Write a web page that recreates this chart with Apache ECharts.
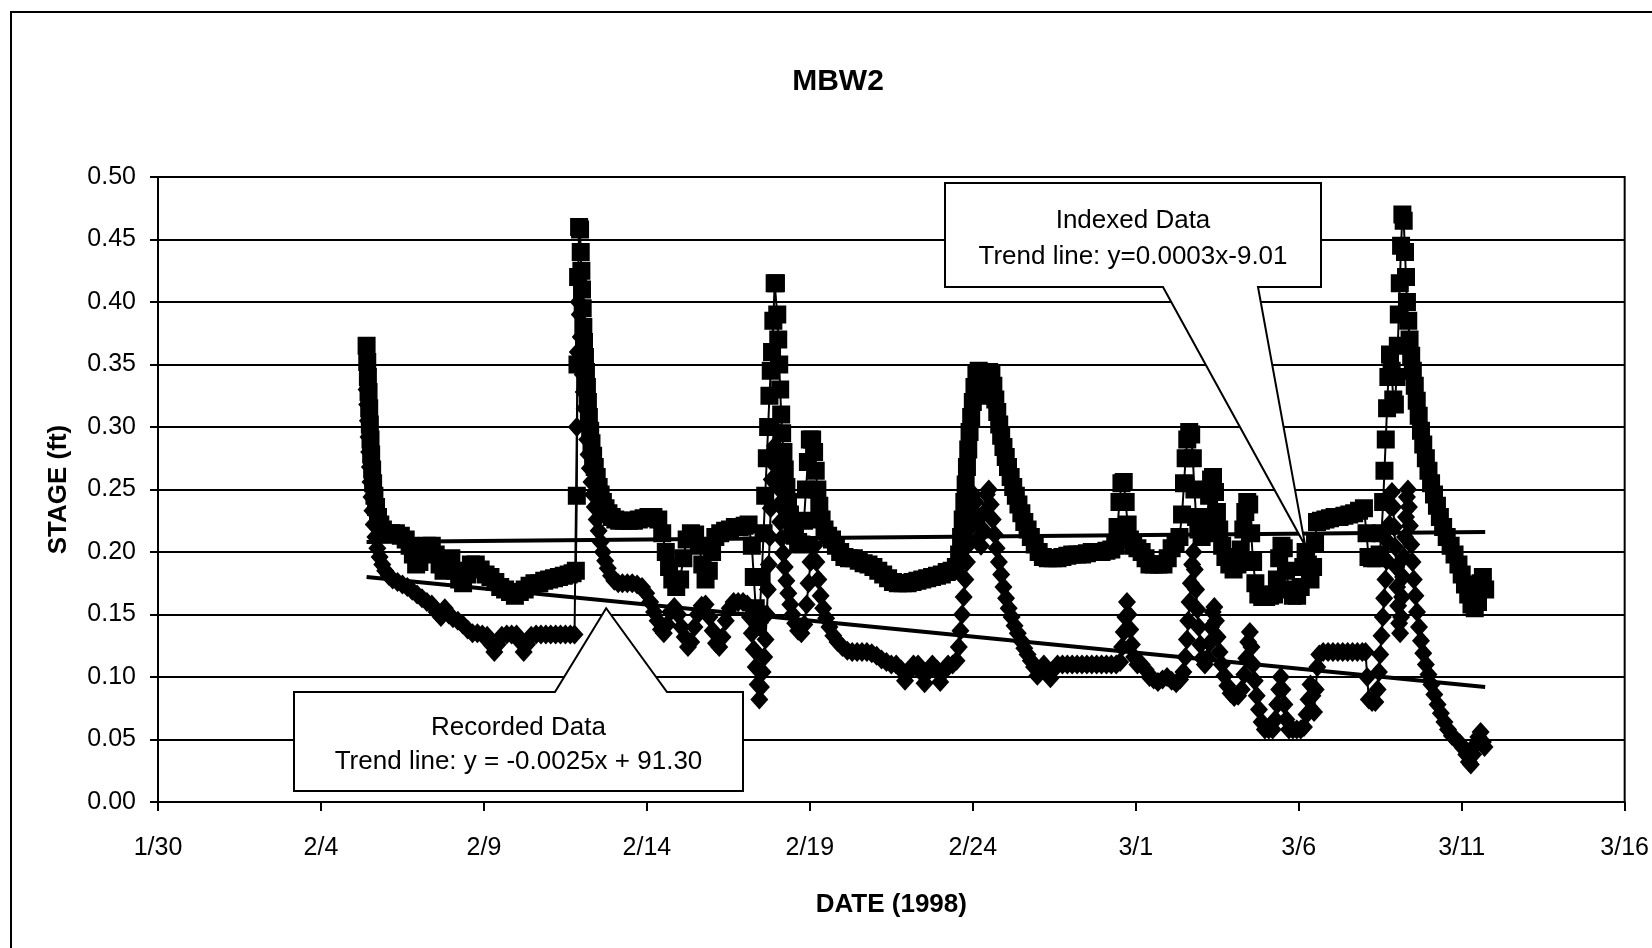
<!DOCTYPE html>
<html>
<head>
<meta charset="utf-8">
<title>MBW2</title>
<script src="https://cdn.jsdelivr.net/npm/echarts@6/dist/echarts.min.js"></script>
<style>
  html, body { margin: 0; padding: 0; background: #fff; }
  #chart { width: 1652px; height: 948px; }
</style>
</head>
<body>
<div id="chart"></div>
<script>
// x values are days counted from 30 Jan 1998 00:00; y values are stage in feet.
const dateTicks = ['1/30', '2/4', '2/9', '2/14', '2/19', '2/24', '3/1', '3/6', '3/11', '3/16'];

// Recorded stage (diamond markers)
const recorded = [
  [6.40,0.330],[6.42,0.318],[6.44,0.305],[6.46,0.292],[6.48,0.280],[6.50,0.268],[6.52,0.256],[6.55,0.244],
  [6.58,0.233],[6.62,0.222],[6.67,0.212],[6.73,0.203],[6.80,0.196],[6.88,0.190],[6.97,0.185],[7.08,0.181],
  [7.20,0.178],[7.35,0.176],[7.50,0.174],[7.65,0.172],[7.80,0.169],[7.95,0.166],[8.10,0.163],[8.25,0.160],
  [8.40,0.158],[8.55,0.152],[8.68,0.148],[8.80,0.155],[8.92,0.150],[9.05,0.147],[9.20,0.145],[9.35,0.142],
  [9.50,0.138],[9.65,0.135],[9.80,0.135],[9.95,0.134],[10.10,0.133],[10.22,0.126],[10.32,0.120],[10.42,0.126],
  [10.55,0.133],[10.70,0.134],[10.85,0.134],[11.00,0.134],[11.12,0.128],[11.22,0.120],[11.32,0.126],[11.45,0.133],
  [11.60,0.134],[11.75,0.134],[11.90,0.134],[12.05,0.134],[12.20,0.134],[12.35,0.134],[12.50,0.134],[12.65,0.134],
  [12.78,0.134],[12.85,0.300],[12.88,0.360],[12.91,0.400],[12.94,0.390],[12.97,0.372],[13.00,0.356],[13.03,0.342],
  [13.06,0.328],[13.09,0.315],[13.13,0.302],[13.17,0.290],[13.21,0.278],[13.25,0.267],[13.30,0.256],[13.35,0.246],
  [13.40,0.236],[13.46,0.226],[13.52,0.217],[13.58,0.208],[13.65,0.200],[13.72,0.193],[13.80,0.187],[13.90,0.181],
  [14.00,0.177],[14.12,0.175],[14.25,0.175],[14.40,0.175],[14.55,0.175],[14.70,0.174],[14.85,0.172],[14.98,0.167],
  [15.10,0.160],[15.22,0.152],[15.33,0.145],[15.43,0.138],[15.52,0.135],[15.62,0.142],[15.72,0.152],[15.84,0.156],
  [15.96,0.150],[16.06,0.140],[16.16,0.132],[16.26,0.124],[16.36,0.128],[16.46,0.140],[16.56,0.150],[16.68,0.157],
  [16.80,0.158],[16.92,0.148],[17.02,0.137],[17.12,0.127],[17.22,0.124],[17.32,0.132],[17.42,0.145],[17.54,0.155],
  [17.66,0.160],[17.80,0.160],[17.95,0.160],[18.08,0.158],[18.16,0.148],[18.22,0.135],[18.28,0.122],[18.34,0.108],
  [18.40,0.094],[18.45,0.082],[18.50,0.092],[18.55,0.104],[18.60,0.116],[18.64,0.130],[18.68,0.150],[18.71,0.170],
  [18.74,0.190],[18.77,0.212],[18.80,0.235],[18.83,0.258],[18.86,0.280],[18.89,0.300],[18.93,0.285],[18.97,0.268],
  [19.01,0.252],[19.05,0.238],[19.09,0.224],[19.13,0.211],[19.18,0.199],[19.23,0.188],[19.28,0.177],[19.34,0.167],
  [19.40,0.158],[19.47,0.150],[19.55,0.143],[19.64,0.137],[19.74,0.135],[19.83,0.142],[19.90,0.158],[19.96,0.175],
  [20.02,0.192],[20.08,0.205],[20.14,0.205],[20.20,0.192],[20.26,0.178],[20.33,0.165],[20.41,0.155],[20.50,0.147],
  [20.60,0.140],[20.72,0.133],[20.85,0.128],[21.00,0.124],[21.15,0.121],[21.30,0.120],[21.45,0.120],[21.60,0.120],
  [21.75,0.120],[21.90,0.119],[22.05,0.117],[22.20,0.114],[22.35,0.112],[22.50,0.110],[22.65,0.110],[22.80,0.106],
  [22.92,0.097],[23.04,0.104],[23.18,0.110],[23.32,0.110],[23.44,0.103],[23.52,0.095],[23.62,0.104],[23.76,0.110],
  [23.90,0.106],[24.00,0.096],[24.10,0.104],[24.24,0.110],[24.38,0.110],[24.50,0.113],[24.57,0.124],[24.62,0.137],
  [24.67,0.150],[24.72,0.164],[24.77,0.178],[24.82,0.192],[24.87,0.206],[24.92,0.220],[24.97,0.234],[25.02,0.246],
  [25.08,0.240],[25.13,0.226],[25.19,0.212],[25.25,0.205],[25.31,0.218],[25.37,0.232],[25.43,0.246],[25.49,0.250],
  [25.55,0.238],[25.61,0.226],[25.67,0.214],[25.73,0.203],[25.80,0.192],[25.87,0.182],[25.94,0.172],[26.02,0.163],
  [26.10,0.155],[26.19,0.148],[26.28,0.141],[26.38,0.135],[26.48,0.129],[26.58,0.123],[26.68,0.118],[26.78,0.113],
  [26.88,0.108],[26.98,0.101],[27.08,0.106],[27.18,0.110],[27.28,0.106],[27.38,0.099],[27.48,0.106],[27.60,0.110],
  [27.75,0.110],[27.90,0.110],[28.05,0.110],[28.20,0.110],[28.35,0.110],[28.50,0.110],[28.65,0.110],[28.80,0.110],
  [28.95,0.110],[29.10,0.110],[29.25,0.110],[29.40,0.110],[29.52,0.112],[29.58,0.124],[29.63,0.136],[29.68,0.148],
  [29.73,0.160],[29.78,0.150],[29.83,0.138],[29.88,0.126],[29.95,0.116],[30.05,0.110],[30.18,0.110],[30.30,0.106],
  [30.42,0.100],[30.55,0.098],[30.68,0.096],[30.82,0.098],[30.96,0.100],[31.10,0.097],[31.24,0.095],[31.36,0.098],
  [31.46,0.104],[31.52,0.116],[31.57,0.130],[31.61,0.145],[31.65,0.160],[31.69,0.175],[31.73,0.190],[31.77,0.200],
  [31.81,0.186],[31.85,0.170],[31.89,0.154],[31.93,0.140],[31.98,0.126],[32.04,0.115],[32.12,0.110],[32.20,0.115],
  [32.26,0.127],[32.31,0.140],[32.36,0.152],[32.41,0.156],[32.46,0.145],[32.51,0.132],[32.57,0.120],[32.64,0.110],
  [32.72,0.101],[32.81,0.093],[32.91,0.087],[33.02,0.084],[33.14,0.085],[33.25,0.090],[33.33,0.102],[33.39,0.115],
  [33.45,0.128],[33.50,0.136],[33.55,0.124],[33.60,0.110],[33.65,0.097],[33.71,0.085],[33.78,0.074],[33.86,0.064],
  [33.96,0.058],[34.08,0.058],[34.20,0.058],[34.28,0.066],[34.34,0.078],[34.40,0.090],[34.45,0.100],[34.50,0.090],
  [34.56,0.078],[34.62,0.066],[34.70,0.058],[34.82,0.058],[34.94,0.058],[35.06,0.058],[35.16,0.060],[35.24,0.070],
  [35.30,0.082],[35.36,0.094],[35.42,0.085],[35.47,0.072],[35.52,0.090],[35.57,0.108],[35.63,0.118],[35.75,0.120],
  [35.90,0.120],[36.05,0.120],[36.20,0.120],[36.35,0.120],[36.50,0.120],[36.65,0.120],[36.80,0.120],[36.95,0.120],
  [37.05,0.120],[37.10,0.100],[37.15,0.082],[37.25,0.080],[37.35,0.080],[37.42,0.090],[37.46,0.104],[37.50,0.118],
  [37.54,0.133],[37.58,0.148],[37.62,0.163],[37.66,0.178],[37.70,0.193],[37.74,0.208],[37.78,0.222],[37.82,0.236],
  [37.86,0.248],[37.90,0.236],[37.93,0.220],[37.96,0.204],[37.99,0.188],[38.02,0.172],[38.05,0.157],[38.08,0.143],
  [38.11,0.135],[38.14,0.148],[38.17,0.164],[38.20,0.180],[38.23,0.196],[38.26,0.212],[38.29,0.228],[38.32,0.244],
  [38.35,0.250],[38.38,0.236],[38.41,0.221],[38.45,0.206],[38.49,0.192],[38.53,0.178],[38.58,0.165],[38.63,0.152],
  [38.69,0.140],[38.75,0.129],[38.82,0.119],[38.90,0.110],[38.98,0.102],[39.07,0.094],[39.16,0.086],[39.26,0.078],
  [39.36,0.071],[39.47,0.064],[39.58,0.058],[39.70,0.053],[39.82,0.050],[39.94,0.047],[40.05,0.043],[40.14,0.038],
  [40.22,0.032],[40.28,0.030],[40.35,0.038],[40.43,0.046],[40.51,0.052],[40.58,0.056],[40.65,0.048],[40.70,0.044]
];

// Indexed stage (square markers)
const indexed = [
  [6.40,0.365],[6.42,0.352],[6.44,0.340],[6.46,0.328],[6.48,0.315],[6.50,0.302],[6.52,0.290],[6.54,0.278],
  [6.57,0.266],[6.60,0.255],[6.64,0.245],[6.69,0.236],[6.75,0.228],[6.82,0.222],[6.90,0.218],[7.00,0.215],
  [7.15,0.215],[7.30,0.215],[7.45,0.213],[7.60,0.210],[7.72,0.205],[7.82,0.198],[7.92,0.190],[8.02,0.192],
  [8.12,0.200],[8.25,0.205],[8.40,0.205],[8.52,0.198],[8.64,0.190],[8.76,0.185],[8.88,0.190],[9.00,0.195],
  [9.12,0.185],[9.24,0.178],[9.36,0.175],[9.48,0.182],[9.60,0.190],[9.75,0.190],[9.90,0.186],[10.05,0.182],
  [10.20,0.180],[10.35,0.176],[10.50,0.172],[10.65,0.170],[10.80,0.168],[10.95,0.165],[11.10,0.168],[11.25,0.170],
  [11.40,0.173],[11.55,0.175],[11.70,0.175],[11.85,0.177],[12.00,0.178],[12.15,0.179],[12.30,0.180],[12.45,0.181],
  [12.60,0.182],[12.72,0.183],[12.82,0.185],[12.85,0.245],[12.87,0.350],[12.89,0.420],[12.92,0.460],[12.95,0.458],
  [12.97,0.440],[12.99,0.425],[13.01,0.410],[13.03,0.395],[13.05,0.380],[13.07,0.368],[13.10,0.356],[13.13,0.344],
  [13.16,0.332],[13.19,0.320],[13.22,0.308],[13.26,0.297],[13.30,0.287],[13.35,0.277],[13.40,0.268],[13.46,0.260],
  [13.52,0.252],[13.58,0.246],[13.65,0.240],[13.73,0.235],[13.82,0.231],[13.92,0.228],[14.03,0.226],[14.15,0.225],
  [14.30,0.225],[14.45,0.225],[14.60,0.225],[14.75,0.226],[14.90,0.227],[15.05,0.228],[15.20,0.228],[15.35,0.226],
  [15.47,0.215],[15.58,0.200],[15.68,0.188],[15.78,0.178],[15.90,0.172],[16.02,0.178],[16.12,0.195],[16.22,0.210],
  [16.35,0.215],[16.48,0.214],[16.60,0.205],[16.70,0.190],[16.80,0.178],[16.90,0.185],[17.00,0.200],[17.10,0.212],
  [17.25,0.215],[17.40,0.217],[17.55,0.218],[17.70,0.220],[17.85,0.220],[18.00,0.221],[18.12,0.222],[18.22,0.205],
  [18.28,0.180],[18.34,0.155],[18.40,0.140],[18.46,0.150],[18.52,0.180],[18.58,0.215],[18.63,0.245],[18.68,0.275],
  [18.72,0.300],[18.76,0.325],[18.80,0.345],[18.84,0.360],[18.88,0.385],[18.92,0.415],[18.96,0.415],[19.00,0.390],
  [19.03,0.370],[19.06,0.350],[19.09,0.330],[19.12,0.310],[19.15,0.295],[19.19,0.280],[19.23,0.266],[19.28,0.252],
  [19.33,0.240],[19.39,0.230],[19.46,0.220],[19.54,0.213],[19.64,0.208],[19.74,0.206],[19.82,0.225],[19.88,0.250],
  [19.94,0.272],[20.00,0.290],[20.07,0.290],[20.13,0.280],[20.18,0.265],[20.23,0.250],[20.29,0.237],[20.36,0.226],
  [20.45,0.218],[20.56,0.213],[20.68,0.210],[20.80,0.205],[20.93,0.200],[21.06,0.196],[21.20,0.195],[21.35,0.195],
  [21.50,0.193],[21.65,0.191],[21.80,0.190],[21.95,0.188],[22.10,0.185],[22.25,0.182],[22.40,0.179],[22.55,0.176],
  [22.70,0.175],[22.85,0.175],[23.00,0.175],[23.15,0.176],[23.30,0.177],[23.45,0.178],[23.60,0.179],[23.75,0.180],
  [23.90,0.181],[24.05,0.182],[24.20,0.184],[24.35,0.185],[24.48,0.188],[24.58,0.198],[24.64,0.212],[24.69,0.226],
  [24.74,0.240],[24.78,0.254],[24.82,0.268],[24.86,0.282],[24.90,0.296],[24.95,0.308],[25.00,0.320],[25.05,0.332],
  [25.11,0.342],[25.18,0.345],[25.25,0.342],[25.32,0.332],[25.38,0.325],[25.44,0.335],[25.50,0.344],[25.57,0.342],
  [25.63,0.333],[25.69,0.322],[25.75,0.312],[25.81,0.302],[25.87,0.293],[25.94,0.284],[26.01,0.276],[26.08,0.268],
  [26.16,0.260],[26.24,0.252],[26.32,0.245],[26.40,0.238],[26.49,0.231],[26.58,0.224],[26.68,0.218],[26.78,0.212],
  [26.90,0.206],[27.02,0.200],[27.15,0.196],[27.30,0.195],[27.45,0.195],[27.60,0.195],[27.75,0.196],[27.90,0.197],
  [28.05,0.198],[28.20,0.198],[28.35,0.198],[28.50,0.199],[28.65,0.200],[28.80,0.200],[28.95,0.200],[29.10,0.201],
  [29.25,0.202],[29.37,0.205],[29.44,0.220],[29.50,0.240],[29.56,0.255],[29.63,0.256],[29.69,0.240],[29.75,0.222],
  [29.82,0.210],[29.92,0.205],[30.05,0.203],[30.18,0.200],[30.30,0.195],[30.42,0.190],[30.55,0.190],[30.70,0.190],
  [30.85,0.190],[30.98,0.195],[31.10,0.203],[31.22,0.208],[31.34,0.212],[31.42,0.230],[31.48,0.255],[31.53,0.275],
  [31.58,0.290],[31.64,0.296],[31.70,0.294],[31.75,0.275],[31.80,0.250],[31.85,0.228],[31.92,0.218],[32.02,0.212],
  [32.12,0.215],[32.19,0.228],[32.25,0.245],[32.31,0.258],[32.37,0.260],[32.43,0.248],[32.49,0.232],[32.56,0.218],
  [32.65,0.205],[32.75,0.196],[32.87,0.190],[33.00,0.186],[33.12,0.190],[33.22,0.202],[33.30,0.218],[33.36,0.232],
  [33.42,0.240],[33.48,0.238],[33.54,0.215],[33.60,0.192],[33.67,0.175],[33.76,0.166],[33.88,0.164],[34.00,0.164],
  [34.12,0.165],[34.24,0.166],[34.33,0.178],[34.40,0.195],[34.47,0.205],[34.54,0.203],[34.61,0.185],[34.70,0.170],
  [34.82,0.165],[34.95,0.165],[35.06,0.172],[35.14,0.188],[35.21,0.200],[35.28,0.190],[35.36,0.178],[35.44,0.188],
  [35.50,0.208],[35.56,0.224],[35.68,0.225],[35.82,0.226],[35.96,0.227],[36.10,0.228],[36.25,0.228],[36.40,0.229],
  [36.55,0.230],[36.70,0.231],[36.85,0.233],[37.00,0.235],[37.08,0.215],[37.14,0.196],[37.25,0.195],[37.37,0.195],
  [37.48,0.198],[37.54,0.215],[37.59,0.240],[37.63,0.265],[37.67,0.290],[37.71,0.315],[37.75,0.340],[37.80,0.358],
  [37.85,0.345],[37.90,0.322],[37.95,0.318],[38.00,0.340],[38.04,0.365],[38.07,0.390],[38.10,0.415],[38.14,0.445],
  [38.18,0.470],[38.22,0.465],[38.26,0.440],[38.29,0.420],[38.32,0.400],[38.36,0.385],[38.40,0.370],[38.45,0.357],
  [38.50,0.345],[38.56,0.333],[38.62,0.321],[38.68,0.309],[38.75,0.297],[38.82,0.286],[38.90,0.275],[38.98,0.265],
  [39.06,0.255],[39.15,0.246],[39.24,0.237],[39.33,0.228],[39.43,0.220],[39.54,0.212],[39.66,0.205],[39.78,0.198],
  [39.90,0.190],[40.00,0.182],[40.10,0.174],[40.20,0.166],[40.30,0.158],[40.40,0.155],[40.50,0.160],[40.58,0.175],
  [40.65,0.180],[40.72,0.170]
];

// Linear trend lines, drawn between their first and last points
const recordedTrend = [[6.40, 0.180], [40.72, 0.092]];
const indexedTrend  = [[6.40, 0.208], [40.72, 0.216]];

// Callout text and the spot on each trend line its pointer touches
const recordedNote = ['Recorded Data', 'Trend line: y = -0.0025x + 91.30'];
const indexedNote  = ['Indexed Data', 'Trend line: y=0.0003x-9.01'];
const recordedPointer = [13.75, 0.155];
const indexedPointer  = [35.20, 0.205];

const FONT = '"Liberation Sans", Arial, Helvetica, sans-serif';
const INK = '#000';

const chart = echarts.init(document.getElementById('chart'), null, { renderer: 'canvas' });

function dataSeries(name, data, symbol, size, z) {
  return {
    name, type: 'line', data, z,
    symbol, symbolSize: size, showAllSymbol: true,
    lineStyle: { color: INK, width: 2 },
    itemStyle: { color: INK, borderWidth: 0 },
    clip: true
  };
}

function trendSeries(name, data) {
  return {
    name, type: 'line', data, z: 5,
    symbol: 'none',
    lineStyle: { color: INK, width: 4 }
  };
}

chart.setOption({
  animation: false,
  backgroundColor: '#fff',
  grid: {
    left: 158, top: 177, width: 1473, height: 625,
    show: true, borderColor: INK, borderWidth: 2, backgroundColor: 'transparent'
  },
  xAxis: {
    type: 'value', min: 0, max: 45, interval: 5,
    name: 'DATE (1998)', nameLocation: 'middle', nameGap: 90,
    nameTextStyle: { fontFamily: FONT, fontWeight: 'bold', fontSize: 26, color: INK },
    axisLine: { show: true, onZero: false, lineStyle: { color: INK, width: 2 } },
    axisTick: { show: true, length: 9, lineStyle: { color: INK, width: 2 } },
    axisLabel: {
      margin: 34, fontFamily: FONT, fontSize: 25, color: INK,
      formatter: v => dateTicks[Math.round(v / 5)]
    },
    splitLine: { show: false }
  },
  yAxis: {
    type: 'value', min: 0, max: 0.5, interval: 0.05,
    name: 'STAGE (ft)', nameLocation: 'middle', nameGap: 86,
    nameTextStyle: { fontFamily: FONT, fontWeight: 'bold', fontSize: 26, color: INK },
    axisLine: { show: true, lineStyle: { color: INK, width: 2 } },
    axisTick: { show: true, length: 8, lineStyle: { color: INK, width: 2 } },
    axisLabel: {
      margin: 22, fontFamily: FONT, fontSize: 25, color: INK,
      formatter: v => v.toFixed(2)
    },
    splitLine: { show: true, lineStyle: { color: INK, width: 2 } }
  },
  series: [
    dataSeries('Recorded Data', recorded, 'diamond', [18, 20], 2),
    dataSeries('Indexed Data', indexed, 'rect', 18, 3),
    trendSeries('Recorded trend', recordedTrend),
    trendSeries('Indexed trend', indexedTrend)
  ]
});

// Callout boxes with a pointer to the trend line they describe
function callout(box, baseL, baseR, tip, lines) {
  const [l, t, r, b] = box;
  const pointUp = tip[1] < t;
  const pts = pointUp
    ? [[l, t], [baseL, t], tip, [baseR, t], [r, t], [r, b], [l, b]]
    : [[l, t], [r, t], [r, b], [baseR, b], tip, [baseL, b], [l, b]];
  const cx = (l + r) / 2;
  const h = b - t;
  const els = [{
    type: 'polygon', z: 100, silent: true,
    shape: { points: pts },
    style: { fill: '#fff', stroke: INK, lineWidth: 2 }
  }];
  lines.forEach((txt, i) => {
    els.push({
      type: 'text', z: 101, silent: true,
      x: cx, y: t + h * (i === 0 ? 0.36 : 0.71),
      style: {
        text: txt, font: '26px ' + FONT, fill: INK,
        align: 'center', verticalAlign: 'middle',
        textAlign: 'center', textVerticalAlign: 'middle'
      }
    });
  });
  return els;
}

const tipR = chart.convertToPixel({ gridIndex: 0 }, recordedPointer);
const tipI = chart.convertToPixel({ gridIndex: 0 }, indexedPointer);

chart.setOption({
  graphic: [
    {
      type: 'rect', z: 0, silent: true,
      shape: { x: 11, y: 12, width: 1700, height: 1000 },
      style: { fill: 'none', stroke: INK, lineWidth: 2 }
    },
    {
      type: 'text', z: 101, silent: true, x: 838, y: 82,
      style: {
        text: 'MBW2', font: 'bold 30px ' + FONT, fill: INK,
        align: 'center', verticalAlign: 'middle',
        textAlign: 'center', textVerticalAlign: 'middle'
      }
    },
    ...callout([294, 692, 743, 791], 555, 667, tipR, recordedNote),
    ...callout([945, 183, 1321, 287], 1163, 1258, tipI, indexedNote)
  ]
});
</script>
</body>
</html>
